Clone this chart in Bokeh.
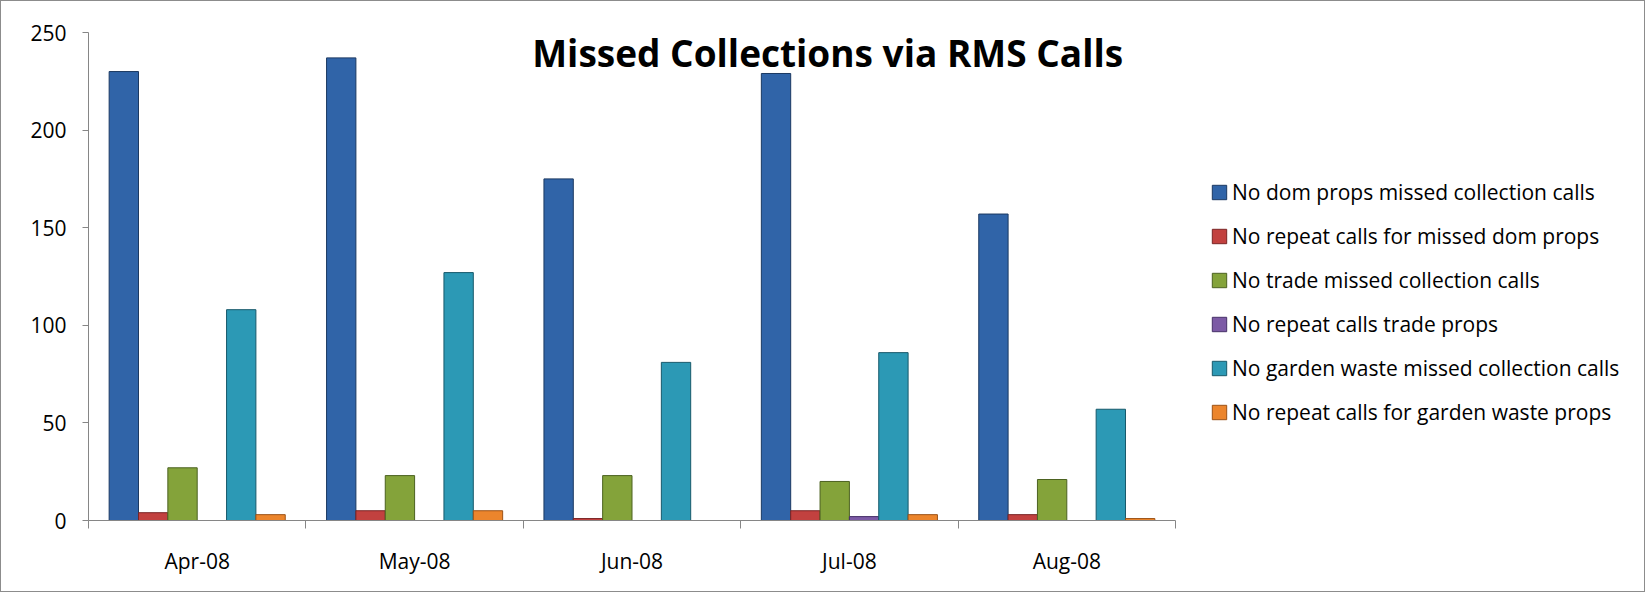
from bokeh.plotting import figure
from bokeh.models import Range1d, FixedTicker, Legend, LegendItem, Label
from bokeh.embed import file_html
from bokeh.resources import INLINE

months = ["Apr-08", "May-08", "Jun-08", "Jul-08", "Aug-08"]
series_names = [
    "No dom props missed collection calls",
    "No repeat calls for missed dom props",
    "No trade missed collection calls",
    "No repeat calls trade props",
    "No garden waste missed collection calls",
    "No repeat calls for garden waste props",
]
dom_missed = [230, 237, 175, 229, 157]
dom_repeat = [4, 5, 1, 5, 3]
trade_missed = [27, 23, 23, 20, 21]
trade_repeat = [0, 0, 0, 2, 0]
garden_missed = [108, 127, 81, 86, 57]
garden_repeat = [3, 5, 0, 3, 1]
y_ticks = [0, 50, 100, 150, 200, 250]

series_values = [dom_missed, dom_repeat, trade_missed, trade_repeat, garden_missed, garden_repeat]
fills = ["#3064a8", "#c2413f", "#84a33a", "#7c5aa5", "#2c99b5", "#ec852c"]
edges = ["#1b3962", "#7a2424", "#4c6220", "#463068", "#17596b", "#9c5216"]

FONT = "Open Sans"

W, H = 1645, 592
LEFT, RIGHT, TOP, BOTTOM = 87, 10, 31, 73
axis_px = 1087                       # pixel length of the category axis
frame_px = W - LEFT - RIGHT
n = len(months)
x_end = n * frame_px / axis_px       # extra room on the right for the legend

p = figure(width=W, height=H, output_backend="svg", toolbar_location=None,
           x_range=Range1d(0, x_end), y_range=Range1d(0, 250),
           min_border_left=LEFT, min_border_right=RIGHT, min_border_top=TOP, min_border_bottom=BOTTOM)
p.outline_line_color = None
p.xgrid.visible = False
p.ygrid.visible = False
p.styles = {"border": "1px solid #8c8c8c"}

bar_w = 0.135
centers = [i + 0.5 for i in range(n)]
items = []
for k, (vals, fc, ec, name) in enumerate(zip(series_values, fills, edges, series_names)):
    xs = [c + (k - 2.5) * bar_w for c in centers]
    r = p.vbar(x=xs, top=vals, bottom=0, width=bar_w, fill_color=fc, line_color=ec, line_width=1)
    items.append(LegendItem(label=name, renderers=[r]))

# axes
grey = "#868686"
p.yaxis.ticker = FixedTicker(ticks=y_ticks)
p.yaxis.axis_line_color = grey
p.yaxis.major_tick_line_color = grey
p.yaxis.major_tick_out = 6
p.yaxis.major_tick_in = 0
p.yaxis.minor_tick_line_color = None
p.yaxis.major_label_text_font = FONT
p.yaxis.major_label_text_font_size = "21px"
p.yaxis.major_label_text_color = "black"
p.yaxis.major_label_standoff = 16

p.xaxis.bounds = (0, n)
p.xaxis.ticker = FixedTicker(ticks=centers, minor_ticks=list(range(n + 1)))
p.xaxis.major_label_overrides = {c: m for c, m in zip(centers, months)}
p.xaxis.axis_line_color = grey
p.xaxis.major_tick_line_color = None
p.xaxis.major_tick_out = 0
p.xaxis.major_tick_in = 0
p.xaxis.minor_tick_line_color = grey
p.xaxis.minor_tick_out = 8
p.xaxis.minor_tick_in = 0
p.xaxis.major_label_text_font = FONT
p.xaxis.major_label_text_font_size = "21px"
p.xaxis.major_label_text_color = "black"
p.xaxis.major_label_standoff = 18

title = Label(x=3.40, y=239.6, text="Missed Collections via RMS Calls",
              text_font=FONT, text_font_style="bold", text_font_size="37px",
              text_align="center", text_baseline="middle", text_color="black")
p.add_layout(title)

legend = Legend(items=items, location=(1122, 93), orientation="vertical",
                label_text_font=FONT, label_text_font_size="21px", label_text_color="black",
                glyph_width=18, glyph_height=18, label_height=30, label_standoff=4,
                spacing=14, padding=0, margin=0,
                background_fill_alpha=0, border_line_color=None)
p.add_layout(legend, "center")

open("out.html", "w").write(file_html(p, INLINE))
